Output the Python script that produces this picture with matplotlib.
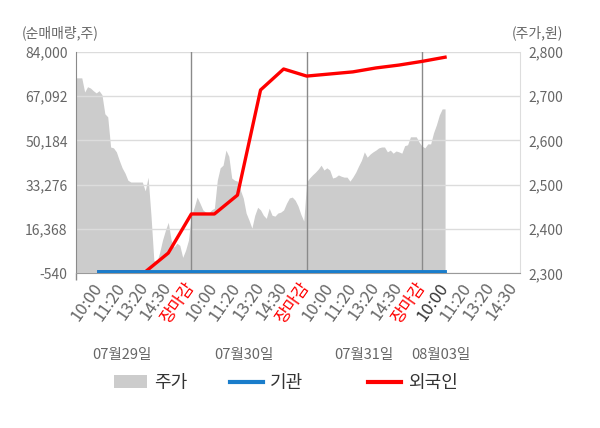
import matplotlib.pyplot as plt
import numpy as np
from matplotlib.patches import Patch
from matplotlib.lines import Line2D
import matplotlib.transforms as mtransforms

plt.rcParams['font.family'] = ['Noto Sans CJK KR', 'DejaVu Sans']

# price (주가, 원) sampled 40 points per trading day
price_day1 = [2741, 2741, 2741, 2709, 2721, 2718, 2712, 2707, 2712, 2703,
              2660, 2653, 2585, 2583, 2574, 2555, 2538, 2526, 2510, 2506,
              2506, 2506, 2506, 2506, 2486, 2517, 2431, 2329, 2325, 2347,
              2375, 2397, 2415, 2375, 2359, 2368, 2363, 2336, 2352, 2375]
price_day2 = [2431, 2449, 2472, 2458, 2443, 2438, 2436, 2443, 2447, 2510,
              2538, 2544, 2578, 2564, 2515, 2510, 2508, 2488, 2470, 2436,
              2420, 2402, 2431, 2449, 2443, 2431, 2424, 2447, 2431, 2429,
              2436, 2438, 2443, 2458, 2470, 2472, 2465, 2452, 2433, 2418]
price_day3 = [2506, 2515, 2522, 2528, 2535, 2544, 2533, 2538, 2533, 2515,
              2517, 2522, 2519, 2517, 2517, 2508, 2517, 2528, 2542, 2555,
              2574, 2562, 2569, 2574, 2578, 2583, 2585, 2585, 2574, 2578,
              2571, 2576, 2574, 2571, 2588, 2590, 2608, 2608, 2608, 2596]
price_day4 = [2587, 2583, 2592, 2592, 2617, 2635, 2657, 2671, 2671]

# net buying (순매매량, 주) at each tick slot
flow_slots = [1, 2, 3, 4, 5, 6, 7, 8, 9, 10, 11, 12, 13, 14, 15, 16]
inst_flow = [0, 0, 0, 0, 0, 0, 0, 0, 0, 0, 0, 0, 0, 0, 0, 0]
foreign_flow = [0, 0, 0, 7200, 22100, 22100, 29300, 69400, 77400, 74700,
                75500, 76300, 77800, 78900, 80300, 81900]

tick_labels = ["10:00", "11:20", "13:20", "14:30", "장마감",
               "10:00", "11:20", "13:20", "14:30", "장마감",
               "10:00", "11:20", "13:20", "14:30", "장마감",
               "10:00", "11:20", "13:20", "14:30"]
date_labels = ["07월29일", "07월30일", "07월31일", "08월03일"]
date_pos = [2.0, 7.3, 12.5, 15.8]
left_ticks = [-540, 16368, 33276, 50184, 67092, 84000]
right_ticks = [2300, 2400, 2500, 2600, 2700, 2800]

price = price_day1 + price_day2 + price_day3 + price_day4
price_x = np.arange(len(price)) * 0.125

fig = plt.figure(figsize=(6, 4.28), dpi=100)
ax = fig.add_axes([0.1267, 0.3614, 0.74, 0.5178])
ax2 = ax.twinx()

# price area on the right axis, drawn underneath
ax.set_zorder(ax2.get_zorder() + 1)
ax.patch.set_visible(False)
ax2.patch.set_facecolor("#f4f4f4")
ax2.fill_between(price_x, price, 2300, color="#cccccc", linewidth=0, zorder=1)
ax2.set_ylim(2300, 2800)
ax2.set_yticks(right_ticks)
ax2.set_yticklabels([f"{v:,}" for v in right_ticks])
ax2.set_axisbelow(False)
ax2.grid(axis="y", color="#dcdcdc", linewidth=1)
ax2.tick_params(axis="y", length=0, pad=6, labelsize=10, labelcolor="#666666")
for s in ax2.spines.values():
    s.set_visible(False)

# flows on the left axis
ax.plot(flow_slots, foreign_flow, color="#ff0000", linewidth=2.4, zorder=3)
ax.plot(flow_slots, inst_flow, color="#1a7dcb", linewidth=2.8, zorder=4)
for d in [5, 10, 15]:
    ax.axvline(d, color="#8a8a8a", linewidth=1, zorder=2)

ax.set_xlim(0, 19.25)
ax.set_ylim(-540, 84000)
ax.set_yticks(left_ticks)
ax.set_yticklabels([f"{v:,}" for v in left_ticks])
ax.tick_params(axis="y", length=0, pad=6, labelsize=10, labelcolor="#666666")

ax.set_xticks(range(1, 20))
ax.set_xticklabels(tick_labels, rotation=55, ha="right", va="center",
                   rotation_mode="anchor", fontsize=12)
ax.tick_params(axis="x", length=0, pad=8)
for i, lab in enumerate(ax.get_xticklabels()):
    if lab.get_text() == "장마감":
        lab.set_color("#ff0000")
    elif i == 15:
        lab.set_color("#333333")
    else:
        lab.set_color("#666666")
ax.set_xticks([0, 5, 10, 15], minor=True)
ax.tick_params(axis="x", which="minor", length=5, color="#8a8a8a", width=1)

ax.spines["top"].set_visible(False)
ax.spines["left"].set_color("#8a8a8a")
ax.spines["bottom"].set_color("#9a9a9a")
ax.spines["right"].set_color("#dddddd")

trans = mtransforms.blended_transform_factory(ax.transData, ax.transAxes)
for p, t in zip(date_pos, date_labels):
    ax.text(p, -0.369, t, transform=trans, ha="center", va="center",
            fontsize=10.5, color="#666666")

fig.text(22 / 600, 1 - 33 / 428, "(순매매량,주)", ha="left", va="center",
         fontsize=10, color="#666666")
fig.text(563 / 600, 1 - 33 / 428, "(주가,원)", ha="right", va="center",
         fontsize=10, color="#666666")

handles = [Patch(facecolor="#cccccc", edgecolor="none", label="주가"),
           Line2D([], [], color="#1a7dcb", linewidth=3, label="기관"),
           Line2D([], [], color="#ff0000", linewidth=3, label="외국인")]
for h, x0 in zip(handles, [114, 230, 368]):
    fig.legend(handles=[h], loc="center left",
               bbox_to_anchor=(x0 / 600, 1 - 383 / 428), frameon=False,
               borderpad=0, borderaxespad=0, handlelength=1.8,
               handleheight=0.75, handletextpad=0.4, fontsize=13,
               labelcolor="#333333")

fig.savefig("out.png", dpi=100)
